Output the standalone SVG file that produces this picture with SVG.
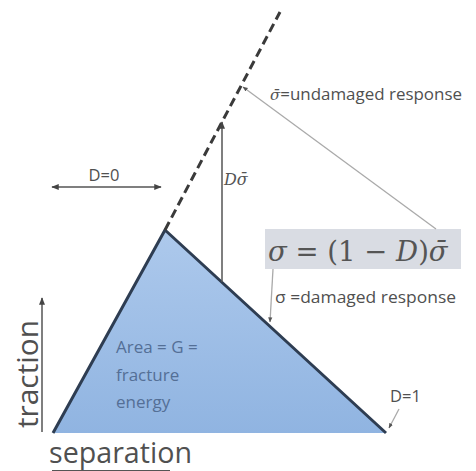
<svg xmlns="http://www.w3.org/2000/svg" width="476" height="471" viewBox="0 0 476 471">
<defs>
<marker id="ah" viewBox="0 0 10 10" refX="9" refY="5" markerWidth="5" markerHeight="5" orient="auto-start-reverse"><path d="M0,1 L10,5 L0,9 z" fill="#444"/></marker>
<marker id="ahs" viewBox="0 0 10 10" refX="9" refY="5" markerWidth="4" markerHeight="4" orient="auto-start-reverse"><path d="M0,1 L10,5 L0,9 z" fill="#555"/></marker>
<linearGradient id="fillg" x1="0" y1="0" x2="0" y2="1"><stop offset="0" stop-color="#adc9ec"/><stop offset="1" stop-color="#90b4e1"/></linearGradient>
</defs>
<style>
.lbl{font-family:"Open Sans","Noto Sans","Liberation Sans",sans-serif;fill:#505050}
.area{font-family:"Open Sans","Noto Sans","Liberation Sans",sans-serif;fill:#546f96;font-size:17px}
.big{font-family:"Open Sans","Noto Sans","Liberation Sans",sans-serif;fill:#505050;font-size:29px}
.math{font-family:"DejaVu Serif","Liberation Serif",serif;fill:#555}
.it{font-style:italic}
.lead{stroke:#aaa;stroke-width:1.3;fill:none}
</style>
<rect width="476" height="471" fill="#fff"/>
<g id="curve">
<polygon points="53,433 165,230 386,433" fill="url(#fillg)"/>
<polyline points="53,433 165,230 386,433" fill="none" stroke="#2e3d52" stroke-width="3" stroke-linejoin="round"/>
</g>
<g id="undamaged-line">
<line x1="165" y1="230" x2="280" y2="12" stroke="#3a3a3a" stroke-width="3" stroke-dasharray="9,5"/>
</g>
<g id="formula">
<rect x="265" y="229" width="196" height="40" fill="#d9dce3"/>
<text x="268" y="261" class="math" font-size="27.5"><tspan class="it">σ</tspan> = (1 − <tspan class="it">D</tspan>)<tspan class="it">σ̄</tspan></text>
</g>
<g id="connectors">
<line x1="222" y1="282" x2="222" y2="122" stroke="#555" stroke-width="1.5" marker-end="url(#ah)"/>
<line x1="52" y1="187" x2="161" y2="187" stroke="#555" stroke-width="1.5" marker-start="url(#ah)" marker-end="url(#ah)"/>
<line x1="436" y1="229" x2="243" y2="87" class="lead" marker-end="url(#ahs)"/>
<line x1="273" y1="269" x2="270" y2="322" class="lead" marker-end="url(#ahs)"/>
<line x1="399" y1="409" x2="389" y2="428" class="lead" marker-end="url(#ahs)"/>
<line x1="42" y1="432" x2="42" y2="298" stroke="#555" stroke-width="1.5" marker-end="url(#ah)"/>
<line x1="52" y1="471" x2="170" y2="471" stroke="#555" stroke-width="2"/>
</g>
<g id="labels">
<text x="104" y="181" class="lbl" font-size="16.5" text-anchor="middle">D=0</text>
<text x="224" y="185" class="math it" font-size="16">Dσ̄</text>
<text x="270" y="100" class="lbl" font-size="17" textLength="192" lengthAdjust="spacingAndGlyphs"><tspan class="math it" font-size="15">σ̄</tspan>=undamaged response</text>
<text x="275" y="303" class="lbl" font-size="17" textLength="181" lengthAdjust="spacingAndGlyphs">σ =damaged response</text>
<text x="390" y="402" class="lbl" font-size="16.5">D=1</text>
<text x="116" y="353" class="area">Area = G =</text>
<text x="116" y="381" class="area">fracture</text>
<text x="116" y="408" class="area">energy</text>
<text transform="translate(38,428) rotate(-90)" class="big" textLength="108" lengthAdjust="spacingAndGlyphs">traction</text>
<text x="49" y="463" class="big" textLength="143" lengthAdjust="spacingAndGlyphs">separation</text>
</g>
</svg>
